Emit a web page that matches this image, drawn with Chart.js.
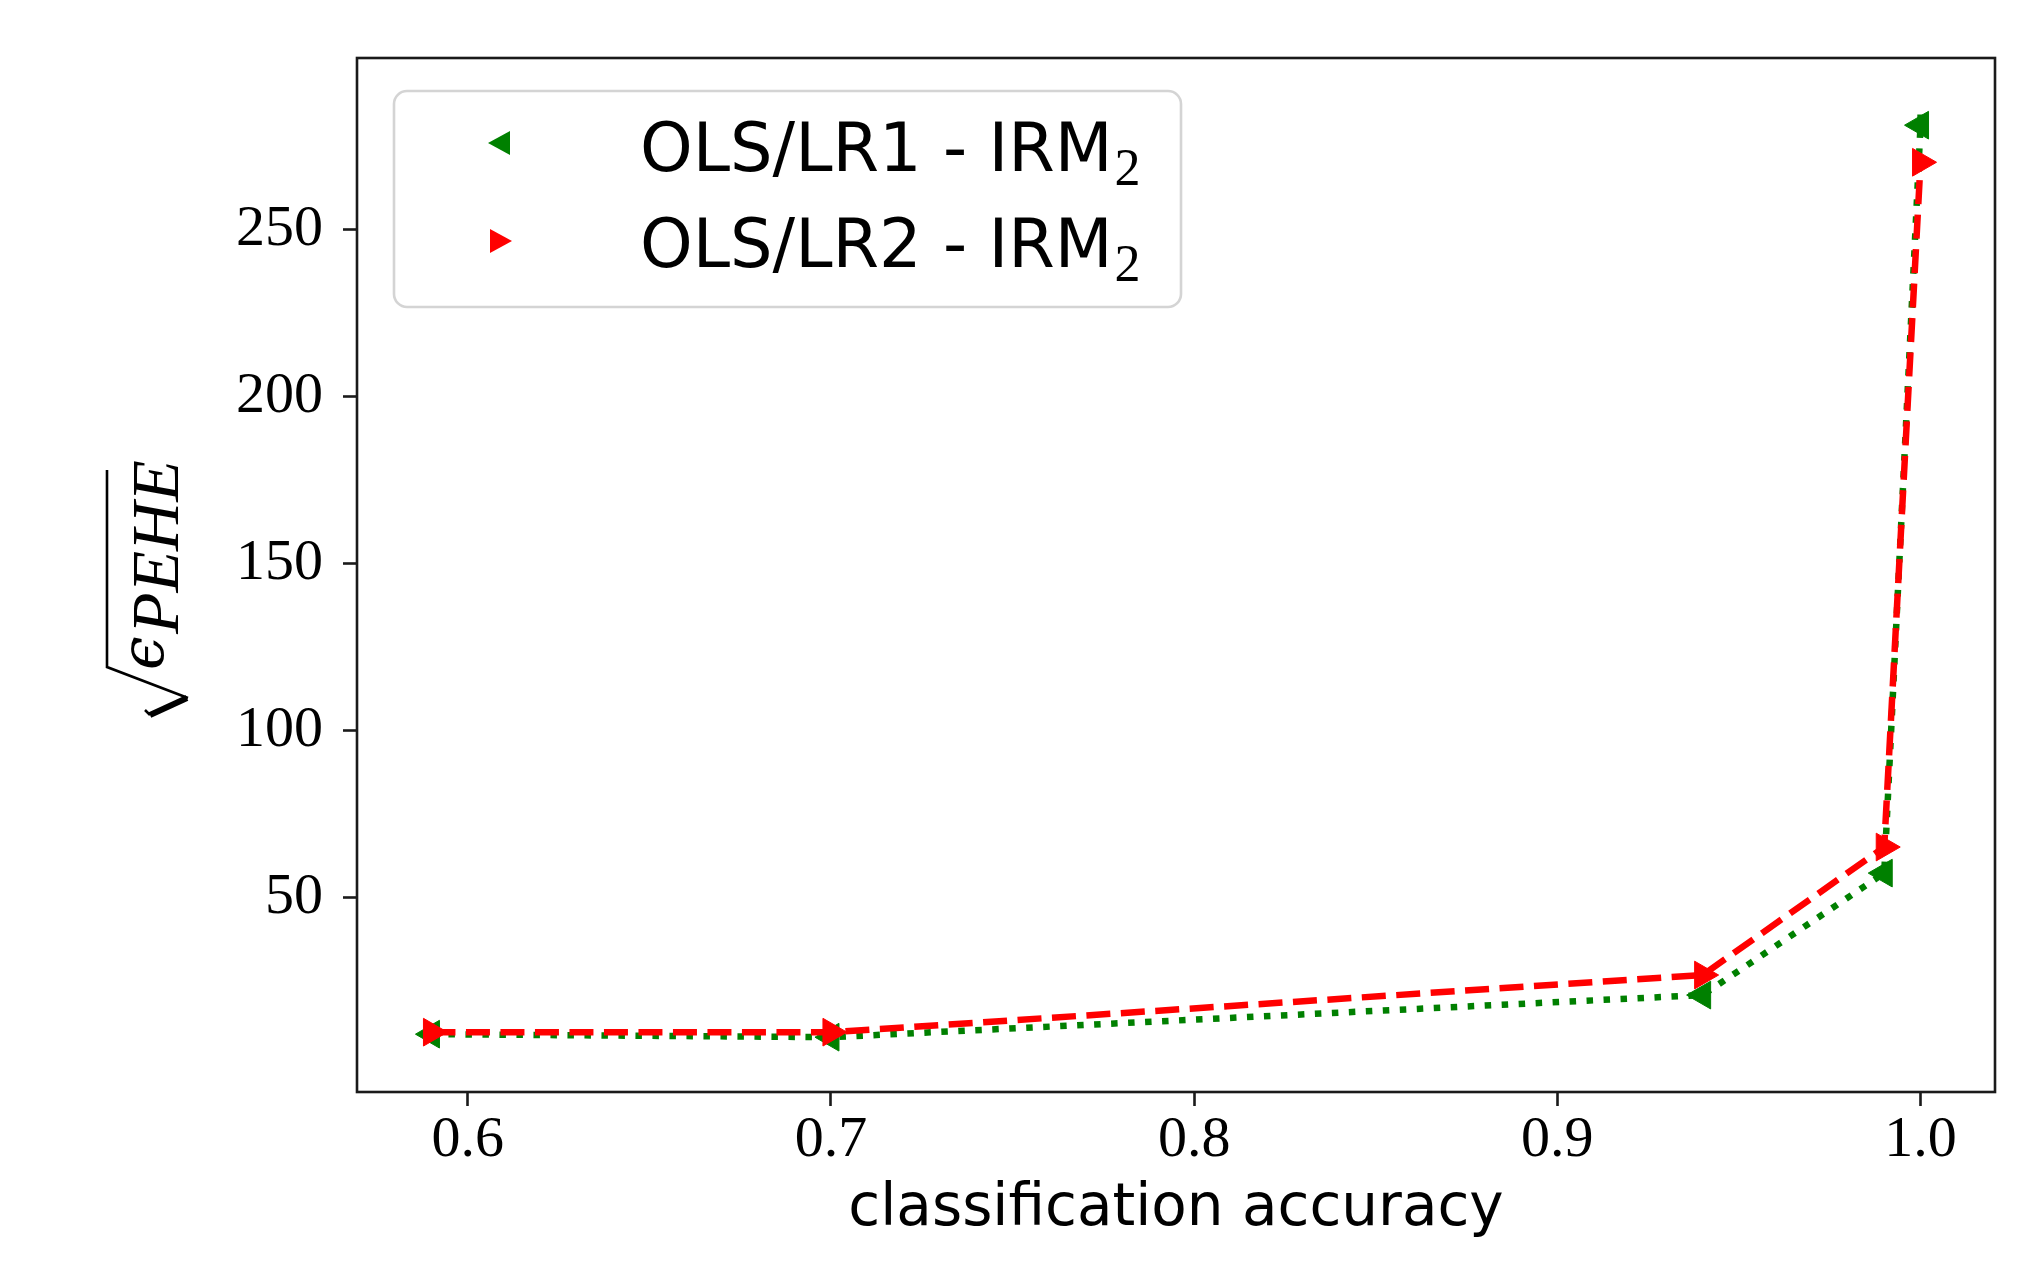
<!DOCTYPE html>
<html>
<head>
<meta charset="utf-8">
<script src="https://cdn.jsdelivr.net/npm/chart.js@4.4.1/dist/chart.umd.min.js"></script>
<style>
  html, body { margin: 0; padding: 0; background: #ffffff; }
  #wrap { width: 2020px; height: 1273px; position: relative; }
</style>
</head>
<body>
<div id="wrap"><canvas id="c"></canvas></div>
<script>
// ---- data ----
const seriesNames = ['OLS/LR1 - IRM₂', 'OLS/LR2 - IRM₂'];
const lr1Accuracy = [0.59, 0.70, 0.94, 0.99, 1.00, 1.00];
const lr1Values   = [9.2, 8.3, 20.9, 57.4, 281.2, 287.2];
const lr1Marked   = [true, true, true, true, true, false];
const lr2Accuracy = [0.59, 0.70, 0.94, 0.99, 1.00];
const lr2Values   = [9.8, 9.8, 26.9, 65.2, 270.1];
const xTickValues = [0.6, 0.7, 0.8, 0.9, 1.0];
const yTickValues = [50, 100, 150, 200, 250];
const xTitle = 'classification accuracy';
const yTitleMain = 'ϵ';
const yTitleSub = 'PEHE';

const GREEN = '#008000';
const RED = '#ff0000';
const AXIS = '#1a1a1a';
const TICK_FONT = { family: '"Liberation Serif", "Times New Roman", serif', size: 58 };

const toPoints = (xs, ys) => xs.map((x, i) => ({ x: x, y: ys[i] }));

const frame = {
  id: 'frame',
  afterDatasetsDraw(chart) {
    const { ctx, chartArea: a } = chart;
    ctx.save();
    ctx.strokeStyle = AXIS;
    ctx.lineWidth = 2.6;
    ctx.strokeRect(a.left, a.top, a.right - a.left, a.bottom - a.top);
    ctx.restore();
  }
};

const legendBox = {
  id: 'legendBox',
  afterDraw(chart) {
    const { ctx, chartArea: a } = chart;
    const x0 = a.left + 37, y0 = a.top + 33, w = 787, h = 216, r = 13;
    ctx.save();
    ctx.beginPath();
    ctx.roundRect(x0, y0, w, h, r);
    ctx.fillStyle = 'rgba(255,255,255,0.85)';
    ctx.fill();
    ctx.strokeStyle = '#d4d4d4';
    ctx.lineWidth = 2.6;
    ctx.stroke();
    const rows = [a.top + 85, a.top + 183];
    const baselines = [a.top + 113, a.top + 209];
    chart.data.datasets.forEach((ds, i) => {
      const mx = a.left + 143, my = rows[i];
      const dir = ds.pointRotation === -90 ? -1 : 1;
      ctx.beginPath();
      ctx.moveTo(mx + dir * 12, my);
      ctx.lineTo(mx - dir * 10, my - 12);
      ctx.lineTo(mx - dir * 10, my + 12);
      ctx.closePath();
      ctx.fillStyle = ds.borderColor;
      ctx.fill();
      const label = ds.label;
      const base = label.slice(0, -1);
      const sub = '2';
      ctx.fillStyle = '#000';
      ctx.textBaseline = 'alphabetic';
      ctx.textAlign = 'left';
      ctx.font = '67px "DejaVu Sans", sans-serif';
      const tx = a.left + 283;
      ctx.fillText(base, tx, baselines[i]);
      const bw = ctx.measureText(base).width;
      ctx.font = '52px "Liberation Serif", serif';
      ctx.fillText(sub, tx + bw + 2, baselines[i] + 14);
    });
    ctx.restore();
  }
};

const yTitlePlugin = {
  id: 'yTitle',
  afterDraw(chart) {
    const { ctx, chartArea: a } = chart;
    const tx = a.left - 194;
    const ty = (a.top + a.bottom) / 2 + 95;
    ctx.save();
    ctx.translate(tx, ty);
    ctx.rotate(-Math.PI / 2);
    ctx.fillStyle = '#000';
    ctx.textBaseline = 'alphabetic';
    ctx.textAlign = 'left';
    ctx.font = 'italic 60px "DejaVu Serif", serif';
    ctx.fillText(yTitleMain, 0, 0);
    ctx.font = 'italic 68px "Liberation Serif", serif';
    ctx.fillText(yTitleSub, 36, 15);
    // radical sign
    ctx.strokeStyle = '#000';
    ctx.lineCap = 'butt';
    ctx.lineJoin = 'miter';
    ctx.lineWidth = 2.6;
    ctx.beginPath();
    ctx.moveTo(200, -56);
    ctx.lineTo(3, -56);
    ctx.lineTo(-28, 25);
    ctx.stroke();
    ctx.lineWidth = 6;
    ctx.beginPath();
    ctx.moveTo(-28, 24);
    ctx.lineTo(-45, -13);
    ctx.stroke();
    ctx.lineWidth = 2.5;
    ctx.beginPath();
    ctx.moveTo(-45, -13);
    ctx.lineTo(-40, -18);
    ctx.stroke();
    ctx.restore();
  }
};

new Chart(document.getElementById('c'), {
  type: 'line',
  data: {
    datasets: [
      {
        label: seriesNames[0],
        data: toPoints(lr1Accuracy, lr1Values),
        borderColor: GREEN,
        backgroundColor: GREEN,
        borderWidth: 6.5,
        borderDash: [6.5, 10.5],
        borderCapStyle: 'butt',
        pointStyle: 'triangle',
        pointRotation: -90,
        pointRadius: lr1Marked.map(m => (m ? 16 : 0)),
        pointBorderWidth: 1,
        pointBackgroundColor: GREEN,
        pointBorderColor: GREEN,
        tension: 0,
        order: 2
      },
      {
        label: seriesNames[1],
        data: toPoints(lr2Accuracy, lr2Values),
        borderColor: RED,
        backgroundColor: RED,
        borderWidth: 6.5,
        borderDash: [24, 10.5],
        borderCapStyle: 'butt',
        pointStyle: 'triangle',
        pointRotation: 90,
        pointRadius: 16,
        pointBorderWidth: 1,
        pointBackgroundColor: RED,
        pointBorderColor: RED,
        tension: 0,
        order: 1
      }
    ]
  },
  options: {
    responsive: true,
    maintainAspectRatio: false,
    animation: false,
    devicePixelRatio: 1,
    layout: { autoPadding: false, padding: { left: 0, right: 25, top: 58, bottom: 0 } },
    plugins: { legend: { display: false }, tooltip: { enabled: false } },
    scales: {
      x: {
        type: 'linear',
        min: 0.5695,
        max: 1.0205,
        afterFit(scale) { scale.height = 181; },
        afterBuildTicks(scale) { scale.ticks = xTickValues.map(v => ({ value: v })); },
        border: { display: false },
        grid: { display: true, drawOnChartArea: false, drawTicks: true, tickLength: 14, tickWidth: 2.6, tickColor: AXIS },
        ticks: {
          color: '#000',
          font: TICK_FONT,
          padding: 0,
          maxRotation: 0,
          autoSkip: false,
          callback: v => Number(v).toFixed(1)
        },
        title: {
          display: true,
          text: xTitle,
          color: '#000',
          font: { family: '"DejaVu Sans", sans-serif', size: 58 },
          padding: { top: 0, bottom: 28 }
        }
      },
      y: {
        type: 'linear',
        min: -8.1,
        max: 301.3,
        afterFit(scale) { scale.width = 357; },
        afterBuildTicks(scale) { scale.ticks = yTickValues.map(v => ({ value: v })); },
        border: { display: false },
        grid: { display: true, drawOnChartArea: false, drawTicks: true, tickLength: 14, tickWidth: 2.6, tickColor: AXIS },
        ticks: {
          color: '#000',
          font: TICK_FONT,
          padding: 20,
          autoSkip: false,
          callback: v => String(v)
        },
        title: { display: false }
      }
    }
  },
  plugins: [frame, legendBox, yTitlePlugin]
});
</script>
</body>
</html>
